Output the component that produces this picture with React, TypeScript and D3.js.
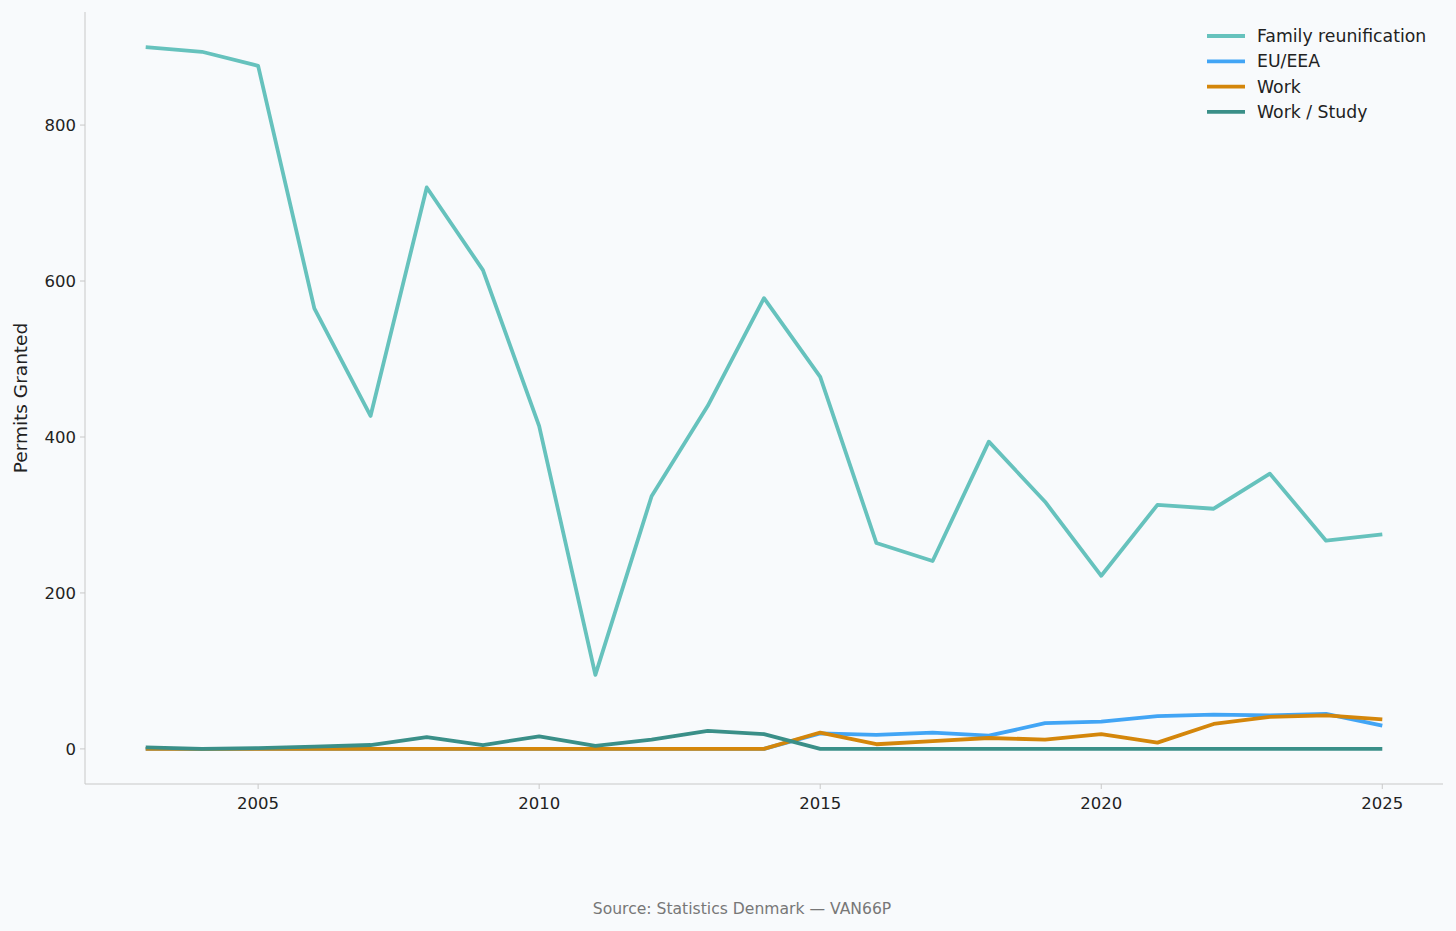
import React from "react";
import * as d3 from "d3";

const years = d3.range(2003, 2026);
const family = [900, 894, 876, 565, 427, 720, 614, 414, 95, 324, 440, 578, 477, 264, 241, 394, 317, 222, 313, 308, 353, 267, 275];
const euEea = [0, 0, 0, 0, 0, 0, 0, 0, 0, 0, 0, 0, 20, 18, 21, 17, 33, 35, 42, 44, 43, 45, 30];
const work = [0, 0, 0, 0, 0, 0, 0, 0, 0, 0, 0, 0, 21, 6, 10, 14, 12, 19, 8, 32, 41, 43, 38];
const workStudy = [2, 0, 1, 3, 5, 15, 5, 16, 4, 12, 23, 19, 0, 0, 0, 0, 0, 0, 0, 0, 0, 0, 0];
const series = [
  { name: "Family reunification", values: family, color: "#66c2bd" },
  { name: "EU/EEA", values: euEea, color: "#42a5f5" },
  { name: "Work", values: work, color: "#d4860b" },
  { name: "Work / Study", values: workStudy, color: "#3a8f88" },
];
const xTicks = [2005, 2010, 2015, 2020, 2025];
const yTicks = [0, 200, 400, 600, 800];

export default function App() {
  const W = 1456, H = 931;
  const L = 85, R = 1443, T = 12, B = 784;
  const x = d3.scaleLinear().domain([2001.92, 2026.08]).range([L, R]);
  const y = d3.scaleLinear().domain([-45, 945]).range([B, T]);
  const line = d3.line<number>().x((_, i) => x(years[i])).y((v) => y(v));
  const font = "DejaVu Sans, sans-serif";
  return (
    <svg width={W} height={H} style={{ position: "absolute", left: 0, top: 0, background: "#f8fafc" }} fontFamily={font}>
      <rect width={W} height={H} fill="#f8fafc" />
      <line x1={L} x2={L} y1={T} y2={B} stroke="#c8c8c8" />
      <line x1={L} x2={R} y1={B} y2={B} stroke="#c8c8c8" />
      {xTicks.map((t) => (
        <g key={t}>
          <line x1={x(t)} x2={x(t)} y1={B} y2={B + 5} stroke="#c8c8c8" />
          <text x={x(t)} y={B + 25} textAnchor="middle" fontSize={16.5} fill="#222">{t}</text>
        </g>
      ))}
      {yTicks.map((t) => (
        <g key={t}>
          <line x1={L - 5} x2={L} y1={y(t)} y2={y(t)} stroke="#c8c8c8" />
          <text x={L - 9} y={y(t) + 6} textAnchor="end" fontSize={16.5} fill="#222">{t}</text>
        </g>
      ))}
      <text transform={`translate(27,${(T + B) / 2}) rotate(-90)`} textAnchor="middle" fontSize={18.5} fill="#222">Permits Granted</text>
      {series.map((s) => (
        <path key={s.name} d={line(s.values) || ""} fill="none" stroke={s.color} strokeWidth={3.8} strokeLinejoin="round" />
      ))}
      {series.map((s, i) => (
        <g key={s.name} transform={`translate(1207,${36 + i * 25.3})`}>
          <line x1={0} x2={38} y1={0} y2={0} stroke={s.color} strokeWidth={3.8} />
          <text x={50} y={6} fontSize={17.3} fill="#222">{s.name}</text>
        </g>
      ))}
      <text x={742} y={914} textAnchor="middle" fontSize={15.6} fill="#777">Source: Statistics Denmark — VAN66P</text>
    </svg>
  );
}
